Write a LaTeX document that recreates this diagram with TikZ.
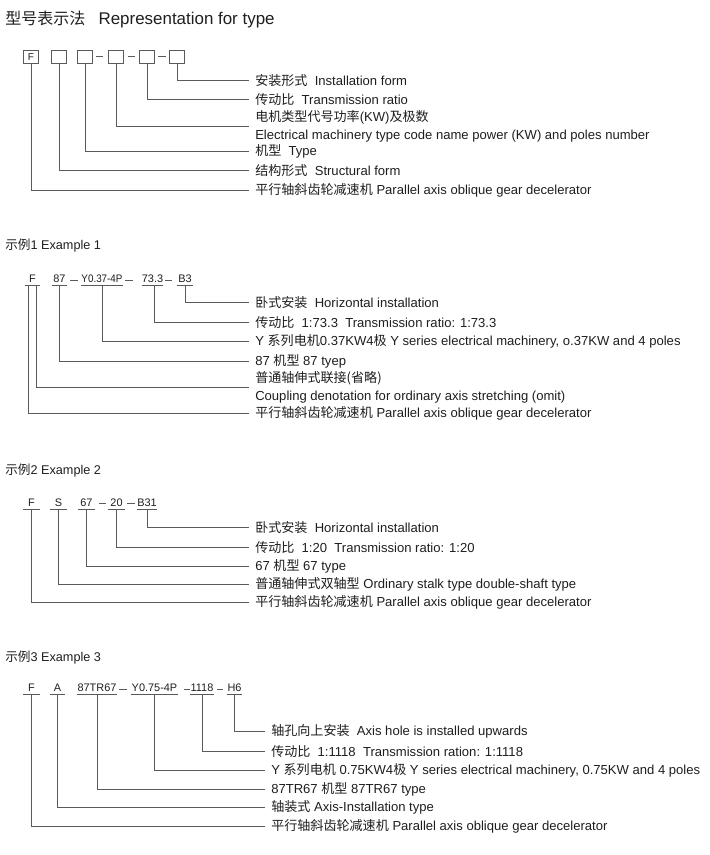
\documentclass[tikz,border=0pt]{standalone}
\usepackage{fontspec}
\setmainfont{Liberation Sans}
\newfontfamily\cjk{Noto Sans CJK SC}
\newcommand\C[1]{{\cjk #1}}
\usetikzlibrary{calc}
\definecolor{ln}{HTML}{5A5A5A}
\definecolor{tx}{HTML}{1E1E1E}
\begin{document}
\begin{tikzpicture}[x=0.75pt,y=-0.75pt,
 lbl/.style={anchor=west, inner xsep=4.5pt, inner ysep=0pt, font=\fontsize{9.8}{13.5}\selectfont, text=tx, align=left},
 hdr/.style={anchor=west, inner sep=0pt, font=\fontsize{9.5}{12}\selectfont, text=tx},
 conn/.style={draw=ln, line width=0.75pt},
 tbox/.style={draw=ln, line width=0.75pt, minimum width=11.25pt, minimum height=9.75pt, inner sep=0pt, font=\fontsize{7.5}{8}\selectfont, text=tx},
 code/.style={anchor=south, inner xsep=0pt, inner ysep=1.5pt, font=\fontsize{8.2}{9}\selectfont, text=tx},
 uline/.style={draw=ln, line width=0.75pt},
 dsh/.style={draw=ln, line width=0.75pt},
]
\useasboundingbox (0,0) rectangle (709,855);

% ---------- title ----------
\node[hdr, font=\fontsize{12}{14}\selectfont] (title) at (5,20) {\C{型号表示法}\ \ \ {\fontsize{12.7}{14}\selectfont Representation for type}};

% ---------- general scheme ----------
\node[tbox] (b1) at (31,57) {F};
\node[tbox] (b2) at (59,57) {};
\node[tbox] (b3) at (85,57) {};
\node[tbox] (b4) at (116,57) {};
\node[tbox] (b5) at (147,57) {};
\node[tbox] (b6) at (177,57) {};
\draw[dsh] (96,57) -- (103,57);
\draw[dsh] (128,57) -- (135,57);
\draw[dsh] (158,57) -- (166,57);

\node[lbl] (t1) at (249,80.5) {\C{安装形式}\ \ Installation form};
\node[lbl] (t2) at (249,100) {\C{传动比}\ \ Transmission ratio};
\node[lbl] (t3) at (249,126.5) {\C{电机类型代号功率}(KW)\C{及极数}\\Electrical machinery type code name power (KW) and poles number};
\node[lbl] (t4) at (249,151.5) {\C{机型}\ \ Type};
\node[lbl] (t5) at (249,171) {\C{结构形式}\ \ Structural form};
\node[lbl] (t6) at (249,190.5) {\C{平行轴斜齿轮减速机}\ Parallel axis oblique gear decelerator};

\draw[conn] (b6.south) |- (t1.west);
\draw[conn] (b5.south) |- (t2.west);
\draw[conn] (b4.south) |- (t3.west);
\draw[conn] (b3.south) |- (t4.west);
\draw[conn] (b2.south) |- (t5.west);
\draw[conn] (b1.south) |- (t6.west);

% ---------- example 1 ----------
\node[hdr] (h1) at (5,246) {\C{示例}1\ Example 1};
\node[code, minimum width=11.25pt] (a1) at (32.5,285) {F};
\node[code, minimum width=11.25pt] (a2) at (59.5,285) {87};
\node[code, minimum width=30pt] (a3) at (102,285) {\scalebox{0.9}[1]{Y0.37-4P}};
\node[code, minimum width=15.75pt] (a4) at (152.5,285) {73.3};
\node[code, minimum width=12pt] (a5) at (185,285) {B3};
\foreach \n in {a1,a2,a3,a4,a5} \draw[uline] (\n.south west) -- (\n.south east);
\draw[dsh] (70,280) -- (78,280);
\draw[dsh] (125,280) -- (133,280);
\draw[dsh] (165,280) -- (172,280);

\node[lbl] (u1) at (249,302.5) {\C{卧式安装}\ \ Horizontal installation};
\node[lbl] (u2) at (249,322.5) {\C{传动比}\ \ 1:73.3\ \ Transmission ratio: 1:73.3};
\node[lbl] (u3) at (249,341.5) {Y \C{系列电机}0.37KW4\C{极} Y series electrical machinery, o.37KW and 4 poles};
\node[lbl] (u4) at (249,361.5) {87 \C{机型} 87 tyep};
\node[lbl] (u5) at (249,387.5) {\C{普通轴伸式联接(省略)}\\Coupling denotation for ordinary axis stretching (omit)};
\node[lbl] (u6) at (249,413) {\C{平行轴斜齿轮减速机}\ Parallel axis oblique gear decelerator};

\draw[conn] (a5.south) |- (u1.west);
\draw[conn] ($(a4.south)+(1.5,0)$) |- (u2.west);
\draw[conn] (a3.south) |- (u3.west);
\draw[conn] (a2.south) |- (u4.west);
\draw[conn] ($(a1.south)+(3.5,0)$) |- (u5.west);
\draw[conn] ($(a1.south)+(-4.5,0)$) |- (u6.west);

% ---------- example 2 ----------
\node[hdr] (h2) at (5,470) {\C{示例}2\ Example 2};
\node[code, minimum width=12pt] (c1) at (31.5,509) {F};
\node[code, minimum width=12pt] (c2) at (58.5,509) {S};
\node[code, minimum width=12pt] (c3) at (86.5,509) {67};
\node[code, minimum width=12pt] (c4) at (116.5,509) {20};
\node[code, minimum width=12.75pt] (c5) at (147,509) {B31};
\foreach \n in {c1,c2,c3,c4,c5} \draw[uline] (\n.south west) -- (\n.south east);
\draw[dsh] (99,503) -- (106,503);
\draw[dsh] (127,503) -- (135,503);

\node[lbl] (v1) at (249,527.5) {\C{卧式安装}\ \ Horizontal installation};
\node[lbl] (v2) at (249,547.5) {\C{传动比}\ \ 1:20\ \ Transmission ratio: 1:20};
\node[lbl] (v3) at (249,566) {67 \C{机型} 67 type};
\node[lbl] (v4) at (249,584) {\C{普通轴伸式双轴型} Ordinary stalk type double-shaft type};
\node[lbl] (v5) at (249,602.5) {\C{平行轴斜齿轮减速机}\ Parallel axis oblique gear decelerator};

\draw[conn] (c5.south) |- (v1.west);
\draw[conn] (c4.south) |- (v2.west);
\draw[conn] (c3.south) |- (v3.west);
\draw[conn] (c2.south) |- (v4.west);
\draw[conn] (c1.south) |- (v5.west);

% ---------- example 3 ----------
\node[hdr] (h3) at (5,657) {\C{示例}3\ Example 3};
\node[code, minimum width=12pt] (d1) at (31.5,694) {F};
\node[code, minimum width=11.25pt] (d2) at (57.5,694) {A};
\node[code, minimum width=30pt] (d3) at (97,694) {87TR67};
\node[code, minimum width=35.25pt] (d4) at (154.5,694) {Y0.75-4P};
\node[code, minimum width=16.5pt] (d5) at (202,694) {1118};
\node[code, minimum width=11.25pt] (d6) at (234.5,694) {H6};
\foreach \n in {d1,d2,d3,d4,d5,d6} \draw[uline] (\n.south west) -- (\n.south east);
\draw[dsh] (119,689) -- (127,689);
\draw[dsh] (184,689) -- (190,689);
\draw[dsh] (217,689) -- (223,689);

\node[lbl] (w1) at (265,731.5) {\C{轴孔向上安装}\ \ Axis hole is installed upwards};
\node[lbl] (w2) at (265,751.5) {\C{传动比}\ \ 1:1118\ \ Transmission ration: 1:1118};
\node[lbl] (w3) at (265,770) {Y \C{系列电机}\ 0.75KW4\C{极} Y series electrical machinery, 0.75KW and 4 poles};
\node[lbl] (w4) at (265,789.5) {87TR67 \C{机型} 87TR67 type};
\node[lbl] (w5) at (265,807.5) {\C{轴装式} Axis-Installation type};
\node[lbl] (w6) at (265,826) {\C{平行轴斜齿轮减速机}\ Parallel axis oblique gear decelerator};

\draw[conn] (d6.south) |- (w1.west);
\draw[conn] (d5.south) |- (w2.west);
\draw[conn] (d4.south) |- (w3.west);
\draw[conn] (d3.south) |- (w4.west);
\draw[conn] (d2.south) |- (w5.west);
\draw[conn] (d1.south) |- (w6.west);
\end{tikzpicture}
\end{document}
